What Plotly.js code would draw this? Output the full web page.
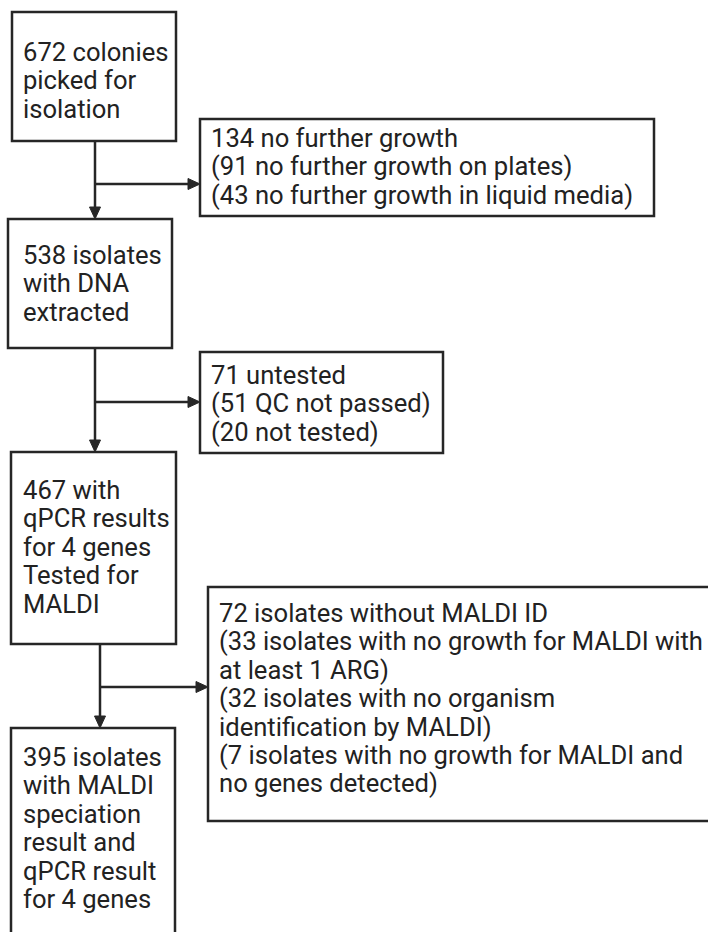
<!DOCTYPE html>
<html>
<head>
<meta charset="utf-8">
<script src="https://cdn.plot.ly/plotly-3.0.1.min.js"></script>
<style>html,body{margin:0;padding:0;background:#fff;}#chart{width:708px;height:932px;}</style>
</head>
<body>
<div id="chart"></div>
<script>
// ---- Data: flowchart contents ----
const mainSteps = [
  ["672 colonies", "picked for", "isolation"],
  ["538 isolates", "with DNA", "extracted"],
  ["467 with", "qPCR results", "for 4 genes", "Tested for", "MALDI"],
  ["395 isolates", "with MALDI", "speciation", "result and", "qPCR result", "for 4 genes"]
];
const exclusions = [
  ["134 no further growth", "(91 no further growth on plates)", "(43 no further growth in liquid media)"],
  ["71 untested", "(51 QC not passed)", "(20 not tested)"],
  ["72 isolates without MALDI ID", "(33 isolates with no growth for MALDI with", "at least 1 ARG)", "(32 isolates with no organism", "identification by MALDI)", "(7 isolates with no growth for MALDI and", "no genes detected)"]
];

// ---- Layout geometry (pixels) ----
const mainBoxes = [
  {x0: 12, x1: 176, y0: 12, y1: 141, tx: 21, ty: 52},
  {x0: 8, x1: 172, y0: 219, y1: 348, tx: 21, ty: 255},
  {x0: 11, x1: 176, y0: 452, y1: 644, tx: 21, ty: 490},
  {x0: 11, x1: 175, y0: 728, y1: 960, tx: 21, ty: 757}
];
const exclBoxes = [
  {x0: 200, x1: 654, y0: 119, y1: 216, tx: 209, ty: 138},
  {x0: 200, x1: 443, y0: 352, y1: 453, tx: 209, ty: 375},
  {x0: 208, x1: 712, y0: 587, y1: 821, tx: 217, ty: 613}
];
const connectors = [
  {vx: 95, vy0: 141, vy1: 219, by: 184, bx0: 95, bx1: 200},
  {vx: 95, vy0: 348, vy1: 452, by: 402, bx0: 95, bx1: 200},
  {vx: 100, vy0: 644, vy1: 728, by: 687, bx0: 100, bx1: 208}
];
const LINE_H = 28.4;
const INK = '#262626';
const FONT = {family: 'Roboto, sans-serif', size: 25.6, color: '#222'};

const shapes = [];
const annotations = [];
function addBox(b, lines) {
  shapes.push({type: 'rect', xref: 'x', yref: 'y', x0: b.x0, x1: b.x1, y0: b.y0, y1: b.y1,
    line: {color: INK, width: 2.5}, fillcolor: 'rgba(0,0,0,0)'});
  lines.forEach((t, i) => {
    annotations.push({xref: 'x', yref: 'y', x: b.tx, y: b.ty + i * LINE_H, text: t,
      showarrow: false, xanchor: 'left', yanchor: 'middle', font: FONT});
  });
}
mainSteps.forEach((l, i) => addBox(mainBoxes[i], l));
exclusions.forEach((l, i) => addBox(exclBoxes[i], l));

const AH = 12, AW = 5.5;
connectors.forEach(c => {
  shapes.push({type: 'line', xref: 'x', yref: 'y', x0: c.vx, x1: c.vx, y0: c.vy0, y1: c.vy1 - AH + 1,
    line: {color: INK, width: 2.5}});
  shapes.push({type: 'path', xref: 'x', yref: 'y',
    path: `M ${c.vx - AW} ${c.vy1 - AH} L ${c.vx + AW} ${c.vy1 - AH} L ${c.vx} ${c.vy1} Z`,
    fillcolor: INK, line: {color: INK, width: 1}});
  shapes.push({type: 'line', xref: 'x', yref: 'y', x0: c.bx0, x1: c.bx1 - AH + 1, y0: c.by, y1: c.by,
    line: {color: INK, width: 2.5}});
  shapes.push({type: 'path', xref: 'x', yref: 'y',
    path: `M ${c.bx1 - AH} ${c.by - AW} L ${c.bx1 - AH} ${c.by + AW} L ${c.bx1} ${c.by} Z`,
    fillcolor: INK, line: {color: INK, width: 1}});
});

const layout = {
  width: 708, height: 932,
  margin: {l: 0, r: 0, t: 0, b: 0},
  paper_bgcolor: '#fff', plot_bgcolor: '#fff',
  xaxis: {range: [0, 708], visible: false, fixedrange: true},
  yaxis: {range: [932, 0], visible: false, fixedrange: true},
  showlegend: false,
  shapes: shapes,
  annotations: annotations
};
Plotly.newPlot('chart', [{x: [], y: [], type: 'scatter', mode: 'markers', hoverinfo: 'skip'}], layout, {staticPlot: true, displayModeBar: false});
</script>
</body>
</html>
